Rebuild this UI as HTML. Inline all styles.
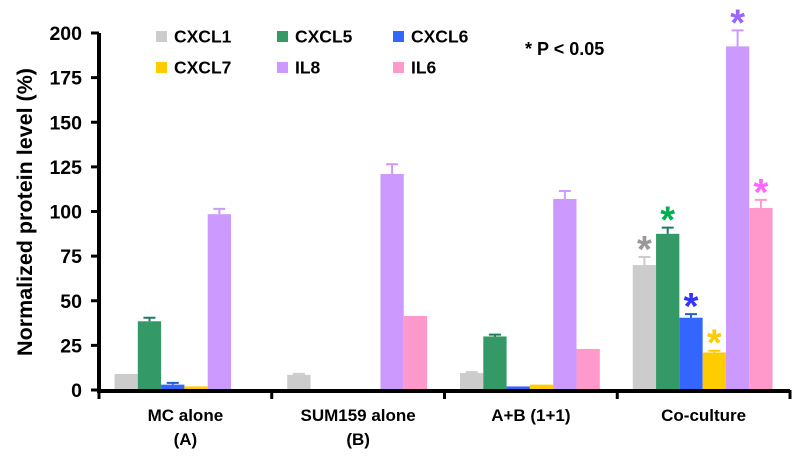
<!DOCTYPE html>
<html><head><meta charset="utf-8"><style>
body{margin:0;background:#fff}
text{font-family:"Liberation Sans",Arial,sans-serif;font-weight:bold}
</style></head><body>
<svg id="chart" width="800" height="459" xmlns="http://www.w3.org/2000/svg"></svg>
<script>
const categories=["MC alone|(A)","SUM159 alone|(B)","A+B (1+1)","Co-culture"];
const seriesNames=["CXCL1","CXCL5","CXCL6","CXCL7","IL8","IL6"];
const cxcl1=[9,8.5,9.5,70];
const cxcl5=[38.5,0,30,87.5];
const cxcl6=[3,0,2,40.5];
const cxcl7=[2,0,3,21];
const il8=[98.5,121,107,192.5];
const il6=[0,41.5,23,102];
const errCxcl1=[0,0.5,0.5,4.5];
const errCxcl5=[2,0,1,3.5];
const errCxcl6=[1,0,0,2];
const errCxcl7=[0,0,0,1];
const errIl8=[3,5.5,4.5,9];
const errIl6=[0,0,0,4.5];
const significant=[false,false,false,true];
const yTicks=[0,25,50,75,100,125,150,175,200];
const series=[cxcl1,cxcl5,cxcl6,cxcl7,il8,il6];
const errs=[errCxcl1,errCxcl5,errCxcl6,errCxcl7,errIl8,errIl6];
const colors=["#cccccc","#339966","#3366ff","#ffcc00","#cc99ff","#ff99cc"];
const errColors=["#cccccc","#1f7a6a","#1f5fd0","#ffcc00","#cc99ff","#ff99cc"];
const starColors=["#999999","#00b050","#3333ff","#ffcc00","#9966ff","#ff66ff"];
const svg=document.getElementById('chart');
const NS="http://www.w3.org/2000/svg";
const x0=99,x1=790,yBase=390,yTop=33,ymax=200;
const y=v=>yBase-(v/ymax)*(yBase-yTop);
const gw=(x1-x0)/categories.length, bw=23.3, goff=15.5;
const bx=(g,s)=>x0+g*gw+goff+s*bw;
function el(t,a,p){const e=document.createElementNS(NS,t);for(const k in a)e.setAttribute(k,a[k]);(p||svg).appendChild(e);return e;}
series.forEach((vals,s)=>{vals.forEach((v,g)=>{
  if(v<=0)return;
  const r=el('rect',{x:bx(g,s),y:y(v),width:bw,height:yBase-y(v),fill:colors[s]});
  
  
  const e=errs[s][g];
  if(e>0){const cx=bx(g,s)+bw/2;
    const l=el('path',{d:`M${cx} ${y(v)}V${y(v+e)}M${cx-6} ${y(v+e)}H${cx+6}`,stroke:errColors[s],'stroke-width':2,fill:'none'});
    
    }
  if(significant[g]){
    const t=el('text',{x:bx(g,s)+bw/2,y:y(v+e)+5,'text-anchor':'middle','font-size':38,fill:starColors[s],'font-weight':'normal'});
    t.textContent='*';
    
    }
});});
const ya=el('path',{d:`M${x0} ${yTop}V${yBase+3}`,stroke:'#000','stroke-width':4,fill:'none'});


const xa=el('path',{d:`M${x0-2} ${yBase+1}H${x1}`,stroke:'#000','stroke-width':4,fill:'none'});


yTicks.forEach(v=>{
  const tk=el('path',{d:`M${x0-8} ${y(v)}H${x0}`,stroke:'#000','stroke-width':3});
  
  
  const t=el('text',{x:82,y:y(v)+7,'text-anchor':'end','font-size':19.5});
  t.textContent=v;
  
  
});
for(let g=0;g<=categories.length;g++){
  const tk=el('path',{d:`M${x0+g*gw} ${yBase}V${yBase+9}`,stroke:'#000','stroke-width':3});
  
  
}
categories.forEach((c,g)=>{
  c.split('|').forEach((line,i)=>{
    const t=el('text',{x:x0+g*gw+gw/2,y:421+i*24,'text-anchor':'middle','font-size':17});
    t.textContent=line;
    
    
  });
});
const yt=el('text',{x:0,y:0,transform:'translate(32,212) rotate(-90)','text-anchor':'middle','font-size':21.5});
yt.textContent='Normalized protein level (%)';


const lx=[156,277,393], ly=[36,67];
seriesNames.forEach((n,s)=>{
  const cx=lx[s%3], cy=ly[Math.floor(s/3)];
  const r=el('rect',{x:cx,y:cy-5,width:11,height:11,fill:colors[s]});
  
  
  const t=el('text',{x:cx+18,y:cy+6.5,'font-size':17.5});
  t.textContent=n;
  
  
});
const p=el('text',{x:525,y:55,'font-size':18});
p.textContent='* P < 0.05';


</script>
</body></html>
